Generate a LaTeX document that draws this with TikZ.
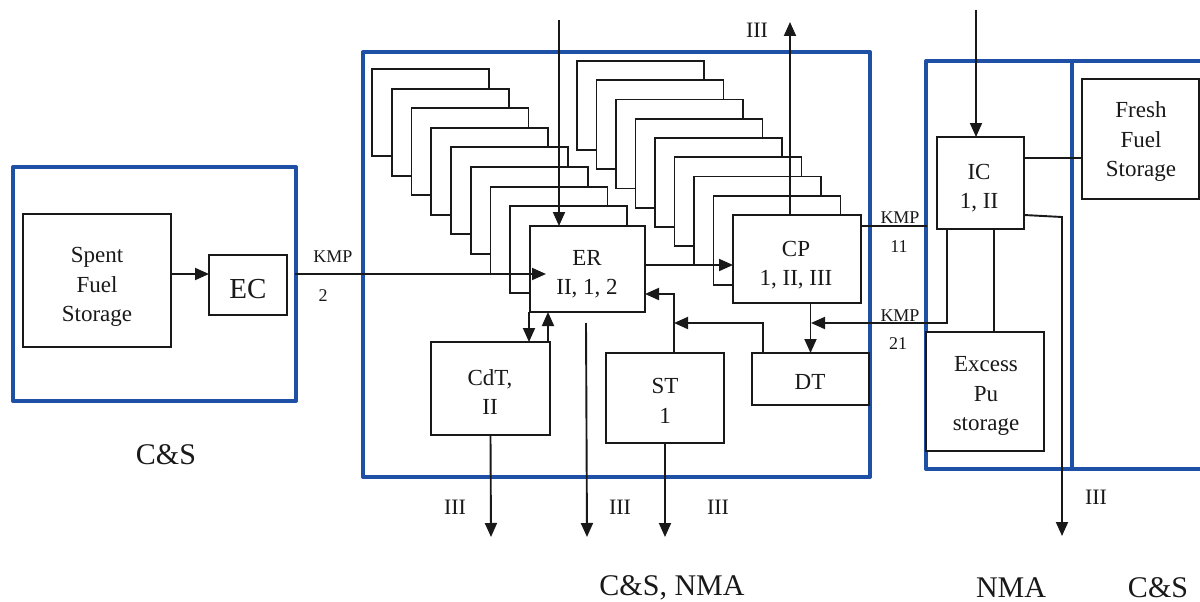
\documentclass[tikz,border=0pt]{standalone}
\usepackage{fontspec}
\setmainfont{Liberation Serif}
\usetikzlibrary{arrows.meta}
\definecolor{frameblue}{RGB}{30,80,165}
\begin{document}
\begin{tikzpicture}[x=1pt,y=-1pt,
  boxst/.style={draw=black!90, line width=1.9pt, fill=white, rectangle, inner sep=0pt, outer sep=0pt},
  txt/.style={font=\fontsize{23}{29.5}\selectfont, align=center, inner sep=0pt, text=black!90},
  bigtxt/.style={font=\fontsize{29}{34}\selectfont, inner sep=0pt, text=black!90},
  small/.style={font=\fontsize{18}{22}\selectfont, inner sep=0pt, text=black!90},
  lab/.style={font=\fontsize{22}{26}\selectfont, inner sep=0pt, text=black!90},
  region/.style={font=\fontsize{30}{34}\selectfont, inner sep=0pt, text=black!90},
  conn/.style={draw=black!90, line width=1.9pt},
  arr/.style={conn, -{Triangle[length=14pt,width=12pt]}},
  frame/.style={draw=frameblue, line width=4pt, line join=round}]
\useasboundingbox (0,0) rectangle (1200,602);
% frames
\draw[frame] (13,167) rectangle (296,401);
\draw[frame] (363,52) rectangle (870,477);
\draw[frame] (926,61) rectangle (1215,469);
\draw[frame] (1072,61) -- (1072,469);
% stacks
\foreach \i in {0,...,7}{
  \node[boxst, minimum width=117, minimum height=87] (sl\i) at ({372+\i*19.75+58.5},{69+\i*19.6+43.5}) {};
}
\foreach \i in {0,...,7}{
  \node[boxst, minimum width=127, minimum height=89] (sr\i) at ({577+\i*19.5+63.5},{61+\i*19.25+44.5}) {};
}
% main boxes
\node[boxst, minimum width=148, minimum height=133] (sfs) at (97,280.5) {};
\node[boxst, minimum width=78, minimum height=60] (ec) at (248,285) {};
\node[boxst, minimum width=115, minimum height=86] (er) at (587.5,269) {};
\node[boxst, minimum width=128, minimum height=88] (cp) at (797,259) {};
\node[boxst, minimum width=119, minimum height=93] (cdt) at (490.5,388.5) {};
\node[boxst, minimum width=118, minimum height=90] (st) at (665,398) {};
\node[boxst, minimum width=117, minimum height=52] (dt) at (810.5,379) {};
\node[boxst, minimum width=87, minimum height=92] (ic) at (980.5,183) {};
\node[boxst, minimum width=117, minimum height=120] (ffs) at (1140.5,139) {};
\node[boxst, minimum width=118, minimum height=119] (epu) at (985,391.5) {};
% texts
\node[txt] (sfst) at (97,287) {Spent\\Fuel\\Storage};
\node[bigtxt] (ect) at (248,289) {EC};
\node[txt] (ert) at (587,274) {ER\\II, 1, 2};
\node[txt] (cpt) at (796,265) {CP\\1, II, III};
\node[txt] (cdtt) at (490,392) {CdT,\\II};
\node[txt] (stt) at (665,401) {ST\\1};
\node[txt] (dtt) at (810,382) {DT};
\node[txt] (ict) at (979,188) {IC\\1, II};
\node[txt] (ffst) at (1141,142) {Fresh\\Fuel\\Storage};
\node[txt] (eput) at (986,396) {Excess\\Pu\\storage};
% helper coordinates
\coordinate (y274) at (0,274);
\coordinate (y265) at (0,265);
\coordinate (y294) at (0,294);
\coordinate (y226) at (0,226);
\coordinate (y158) at (0,158);
\coordinate (y215) at (0,215);
\coordinate (x559) at (559,0);
\coordinate (x790) at (790,0);
\coordinate (x674) at (674,0);
\coordinate (x763) at (763,0);
\coordinate (x947) at (947,0);
\coordinate (x976) at (976,0);
\coordinate (x994) at (994,0);
\coordinate (x529) at (529,0);
\coordinate (x548) at (548,0);
\coordinate (k2s) at (295,274);
\coordinate (k2e) at (546,274);
\coordinate (erin) at (559,20);
\coordinate (cpout) at (790,22);
\coordinate (j1) at (674,323);
\coordinate (j2) at (811,323);
\coordinate (k11) at (927,226);
\coordinate (icin) at (976,10);
\coordinate (icb) at (1062,217);
\coordinate (ice) at (1062,536);
\coordinate (cdte) at (491,537);
\coordinate (m1) at (586,323);
\coordinate (m2) at (587,537);
\coordinate (ste) at (665,537);
% connectors
\draw[arr] (sfs.east |- y274) -- (ec.west |- y274);
\draw[arr] (k2s) -- (k2e);
\draw[arr] (erin) -- (er.north -| x559);
\draw[arr] (cp.north -| x790) -- (cpout);
\draw[arr] (er.east |- y265) -- (cp.west |- y265);
\draw[arr] (st.north -| x674) |- (er.east |- y294);
\draw[arr] (dt.north -| x763) |- (j1);
\draw[arr] (cp.south -| dt.north) -- (dt.north);
\draw[arr] (ic.south -| x947) |- (j2);
\draw[conn] (cp.east |- y226) -- (k11);
\draw[arr] (icin) -- (ic.north -| x976);
\draw[conn] (ic.east |- y158) -- (ffs.west |- y158);
\draw[arr] (ic.east |- y215) -- (icb) -- (ice);
\draw[conn] (ic.south -| x994) -- (epu.north -| x994);
\draw[arr] (er.south -| x529) -- (cdt.north -| x529);
\draw[arr] (cdt.north -| x548) -- (er.south -| x548);
\draw[arr] (cdt.south) -- (cdte);
\draw[arr] (m1) -- (m2);
\draw[arr] (st.south) -- (ste);
% labels
\node[small] (kmp2a) at (333,257) {KMP};
\node[small] (kmp2b) at (323,296) {2};
\node[small] (kmp11a) at (900,218) {KMP};
\node[small] (kmp11b) at (899,247) {11};
\node[small] (kmp21a) at (900,316) {KMP};
\node[small] (kmp21b) at (898,344) {21};
\node[lab] (l1) at (757,30) {III};
\node[lab] (l2) at (455,507) {III};
\node[lab] (l3) at (620,507) {III};
\node[lab] (l4) at (718,507) {III};
\node[lab] (l5) at (1096,497) {III};
\node[region] (r1) at (166,455) {C\&S};
\node[region] (r2) at (672,588) {C\&S, NMA};
\node[region] (r3) at (1011,588) {NMA};
\node[region] (r4) at (1158,588) {C\&S};
\end{tikzpicture}
\end{document}
